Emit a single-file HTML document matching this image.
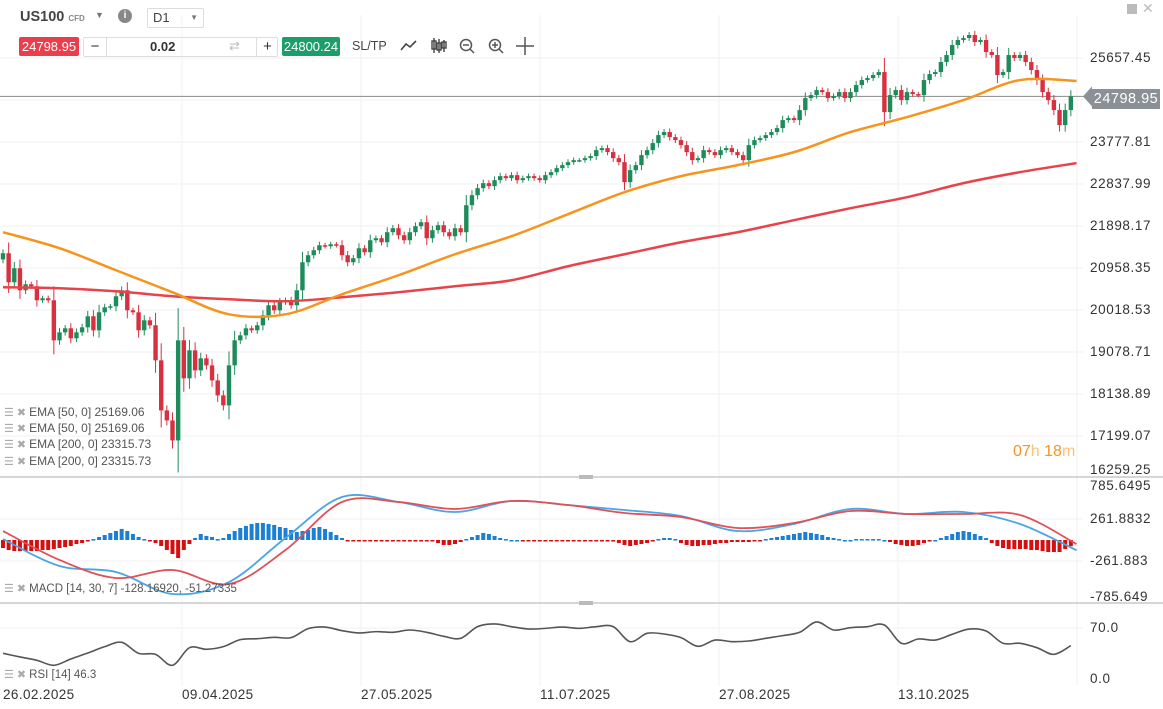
<!DOCTYPE html>
<html><head><meta charset="utf-8">
<style>
body{margin:0;width:1163px;height:709px;overflow:hidden;background:#fff;font-family:"Liberation Sans",sans-serif;position:relative}
.abs{position:absolute}
.ax{position:absolute;left:1090px;font-size:13.5px;color:#333;letter-spacing:0.6px}
.lg{position:absolute;left:4px;font-size:12px;color:#555;white-space:nowrap}
.lg i{font-style:normal;color:#aaa;font-size:11px;margin-right:3px}
.dt{position:absolute;top:687px;font-size:13.5px;color:#333;letter-spacing:0.4px}
</style></head><body>
<svg id="chart" class="abs" style="left:0;top:0" width="1163" height="709"></svg>

<div class="abs" style="left:20px;top:9px;font-size:14.5px;font-weight:bold;color:#444">US100 <span style="font-size:8px;color:#888;font-weight:bold">CFD</span></div>
<div class="abs" style="left:95px;top:10px;font-size:9px;color:#777">▼</div>
<div class="abs" style="left:118px;top:9px;width:14px;height:14px;border-radius:7px;background:#888;color:#fff;font-size:10px;text-align:center;line-height:14px;font-weight:bold">i</div>
<div class="abs" style="left:147px;top:8px;width:50px;height:18px;border:1px solid #ddd;border-radius:2px;font-size:13px;color:#444;line-height:18px;padding-left:5px;box-sizing:content-box">D1<span style="position:absolute;right:5px;font-size:8px;color:#777">▼</span></div>

<div class="abs" style="left:19px;top:37px;width:60px;height:19px;background:#ea3e4c;color:#fff;font-size:13px;line-height:19px;text-align:center;border-radius:2px">24798.95</div>
<div class="abs" style="left:83px;top:37px;width:193px;height:18px;border:1px solid #ddd;border-radius:2px"></div>
<div class="abs" style="left:84px;top:37px;width:22px;height:19px;border-right:1px solid #ddd;text-align:center;font-size:15px;line-height:19px;color:#333">−</div>
<div class="abs" style="left:150px;top:39px;font-size:13px;font-weight:bold;color:#333">0.02</div>
<div class="abs" style="left:229px;top:38px;font-size:13px;color:#bbb">⇄</div>
<div class="abs" style="left:256px;top:37px;width:21px;height:19px;border-left:1px solid #ddd;text-align:center;font-size:15px;line-height:19px;color:#333">+</div>
<div class="abs" style="left:282px;top:37px;width:58px;height:19px;background:#1c9e6a;color:#fff;font-size:13px;line-height:19px;text-align:center;border-radius:2px">24800.24</div>
<div class="abs" style="left:352px;top:39px;font-size:12.5px;color:#444">SL/TP</div>
<svg class="abs" style="left:398px;top:36px" width="145" height="22">
 <polyline points="3,14 8,8 12,11 18,5" fill="none" stroke="#444" stroke-width="1.6"/>
 <g stroke="#444" stroke-width="1.4" fill="none"><line x1="36" y1="2" x2="36" y2="17"/><rect x="34" y="5" width="4" height="8"/><line x1="41" y1="3" x2="41" y2="17"/><rect x="39" y="7" width="4" height="7"/><line x1="46" y1="4" x2="46" y2="16"/><rect x="44" y="6" width="4" height="6"/></g>
 <g stroke="#555" stroke-width="1.5" fill="none"><circle cx="68" cy="9" r="5.5"/><line x1="72" y1="13" x2="76" y2="17"/><line x1="65" y1="9" x2="71" y2="9"/></g>
 <g stroke="#555" stroke-width="1.5" fill="none"><circle cx="97" cy="9" r="5.5"/><line x1="101" y1="13" x2="105" y2="17"/><line x1="94" y1="9" x2="100" y2="9"/><line x1="97" y1="6" x2="97" y2="12"/></g>
 <g stroke="#555" stroke-width="1.5" fill="none"><line x1="118" y1="10" x2="136" y2="10"/><line x1="127" y1="1" x2="127" y2="19"/></g>
</svg>
<div class="abs" style="left:1127px;top:4px;width:10px;height:10px;background:#bbb"></div>
<div class="abs" style="left:1142px;top:0px;font-size:14px;color:#bbb">✕</div>

<div class="ax" style="top:50px">25657.45</div>
<div class="ax" style="top:134px">23777.81</div>
<div class="ax" style="top:176px">22837.99</div>
<div class="ax" style="top:218px">21898.17</div>
<div class="ax" style="top:260px">20958.35</div>
<div class="ax" style="top:302px">20018.53</div>
<div class="ax" style="top:344px">19078.71</div>
<div class="ax" style="top:386px">18138.89</div>
<div class="ax" style="top:428px">17199.07</div>
<div class="ax" style="top:462px">16259.25</div>
<div class="abs" style="left:1092px;top:89px;width:68px;height:20px;background:#8b9096;color:#fff;font-size:14.5px;line-height:20px;text-align:center;letter-spacing:0.5px">24798.95</div>
<div class="abs" style="left:1013px;top:443px;font-size:16px;color:#f7931e">07<span style="color:#f9c27a">h</span> 18<span style="color:#f9c27a">m</span></div>

<div class="lg" style="top:405px"><i>☰ ✖</i>EMA [50, 0] 25169.06</div>
<div class="lg" style="top:421px"><i>☰ ✖</i>EMA [50, 0] 25169.06</div>
<div class="lg" style="top:437px"><i>☰ ✖</i>EMA [200, 0] 23315.73</div>
<div class="lg" style="top:454px"><i>☰ ✖</i>EMA [200, 0] 23315.73</div>

<div class="ax" style="top:478px">785.6495</div>
<div class="ax" style="top:511px">261.8832</div>
<div class="ax" style="top:553px">-261.883</div>
<div class="ax" style="top:589px">-785.649</div>
<div class="lg" style="top:582px;font-size:11.5px"><i>☰ ✖</i>MACD [14, 30, 7] -128.16920, -51.27335</div>

<div class="ax" style="top:620px">70.0</div>
<div class="ax" style="top:671px">0.0</div>
<div class="lg" style="top:668px;font-size:11.5px"><i>☰ ✖</i>RSI [14] 46.3</div>

<div class="dt" style="left:3px">26.02.2025</div>
<div class="dt" style="left:182px">09.04.2025</div>
<div class="dt" style="left:361px">27.05.2025</div>
<div class="dt" style="left:540px">11.07.2025</div>
<div class="dt" style="left:719px">27.08.2025</div>
<div class="dt" style="left:898px">13.10.2025</div>

<script>
const closes=[21289,20639,20953,20460,20594,20550,20236,20281,20236,19340,
19519,19609,19385,19519,19631,19878,19564,19967,20079,20102,
20326,20460,20012,19967,19564,19788,19676,18892,17772,17548,
17100,19340,18489,19116,18668,18937,18780,18444,18108,17884,
18780,19340,19452,19609,19564,19676,19900,20124,20012,20191,
20236,20124,20460,21087,21244,21356,21468,21446,21490,21468,
21244,21087,21177,21400,21311,21580,21625,21535,21759,21849,
21692,21580,21759,21894,21983,21625,21804,21916,21759,21669,
21849,21759,22364,22588,22745,22857,22790,22924,23014,22969,
23036,22924,22969,23014,22969,22924,23036,23103,23193,23260,
23327,23372,23372,23417,23462,23596,23641,23552,23417,23327,
22879,23148,23260,23484,23596,23753,23932,24001,23888,23820,
23708,23552,23372,23417,23596,23552,23484,23596,23641,23552,
23484,23372,23708,23820,23865,23932,24001,24089,24268,24313,
24268,24492,24761,24828,24940,24895,24761,24806,24895,24761,
24895,25052,25164,25209,25276,25343,24447,24828,24940,24716,
24895,24850,24828,25164,25298,25343,25567,25724,25948,26060,
26105,26172,26015,26060,25791,25724,25276,25343,25724,25657,
25724,25567,25388,25164,24895,24716,24492,24156,24492,24799];
const firstOpen=21150;
const ema50=[21759,21401,20908,20415,19922,19922,20370,20796,21266,21670,22162,22655,23014,23260,23551,23999,24335,24716,25164,25142];
const ema200=[20527,20505,20438,20326,20258,20214,20303,20415,20550,20684,20998,21266,21535,21759,22028,22297,22543,22857,23103,23305];
const macdLine=[12,-324,-399,-673,-524,25,536,474,349,486,436,374,299,112,200,387,324,349,200,-128];
const signalLine=[112,-249,-474,-374,-549,-125,474,474,387,486,436,337,287,150,212,362,324,324,312,-51];
const hist=[-100,-125,-138,-138,-138,-138,-138,-125,-125,-112,-100,-88,-75,-50,-38,-12,
12,38,62,88,112,138,112,75,38,12,
-12,-38,-75,-125,-175,-225,-125,-50,
25,75,50,38,12,
25,75,112,150,175,200,212,212,200,188,162,150,125,100,112,125,150,162,138,100,62,25,
-12,-12,-12,-12,-12,-12,-12,-12,-12,-12,-12,-12,-12,-12,-12,-12,
-38,-62,-62,-50,-25,
12,38,62,88,75,50,25,12,
0,0,-12,-12,-12,-12,-12,-12,-12,-12,-12,-12,-12,-12,-12,-12,-12,-12,-12,
-38,-62,-75,-62,-50,-38,-12,
12,25,25,12,
-38,-62,-75,-75,-62,-62,-50,-38,-38,-25,-25,-25,-25,-12,-12,
12,25,38,50,62,75,88,100,88,75,62,38,25,12,
0,0,12,12,12,
12,12,0,-25,-50,
-62,-75,-75,-62,-38,
-12,0,25,
50,75,100,112,100,75,50,25,
-38,-75,-100,-112,-112,-112,-112,-125,-125,-138,-150,-150,-150,-112,-77];
const rsi=[35.9,31.0,26.5,19.8,28.3,36.3,44.9,50.7,35.9,34.5,19.8,43.5,41.3,44.9,54.3,55.6,57.4,57.0,69.1,71.3,66.4,63.3,65.1,64.2,67.3,64.2,58.8,56.1,71.8,75.4,71.8,68.6,69.5,71.3,69.5,71.8,71.8,51.6,62.8,61.9,57.0,45.3,53.8,51.6,52.5,56.1,59.7,64.2,78.1,67.3,70.4,71.8,74.0,49.4,55.2,53.8,61.5,68.6,65.9,49.4,49.4,43.5,34.5,46.3];
const priceTicks=[25657.45,24717.63,23777.81,22837.99,21898.17,20958.35,20018.53,19078.71,18138.89,17199.07];
const currentPrice=24798.95;

const NS='http://www.w3.org/2000/svg';
const svg=document.getElementById('chart');
const X0=3,DX=5.65,PR=1083;
const xc=i=>X0+i*DX;
const yP=v=>58+(25657.45-v)/939.82*42;
const yM=m=>540-m*0.0802;
const yR=r=>680-r*0.743;
function mk(t,a){const e=document.createElementNS(NS,t);for(const k in a)e.setAttribute(k,a[k]);svg.appendChild(e);return e;}

priceTicks.forEach(v=>{const e=mk('line',{x1:0,x2:PR,y1:yP(v),y2:yP(v),stroke:'#f0f0f0','stroke-width':1});

});
[519,561,628].forEach(y=>{const e=mk('line',{x1:0,x2:PR,y1:y,y2:y,stroke:'#f0f0f0'});

});
[182,361,540,719,898,1077].forEach(x=>{const e=mk('line',{x1:x,x2:x,y1:15,y2:686,stroke:'#f2f2f2'});

});
[477,603].forEach(y=>{const e=mk('line',{x1:0,x2:1163,y1:y,y2:y,stroke:'#c8c8c8','stroke-width':1.5});


const h=mk('rect',{x:579,y:y-2,width:14,height:4,fill:'#bbb'});

});

const cl=mk('line',{x1:0,x2:1090,y1:yP(currentPrice),y2:yP(currentPrice),stroke:'#888','stroke-width':1});


const ca=mk('polygon',{points:`1083,${yP(currentPrice)} 1092,${yP(currentPrice)-10} 1092,${yP(currentPrice)+10}`,fill:'#8b9096'});



closes.forEach((c,i)=>{
 const o=i===0?firstOpen:closes[i-1];
 const up=c>=o, col=up?'#1e8c5a':'#d8303f';
 const top=Math.max(o,c),bot=Math.min(o,c),rng=top-bot;
 const hi=top+rng*0.3+45,lo=bot-rng*0.3-45;
 const x=xc(i);
 const w=mk('line',{x1:x,x2:x,y1:yP(hi),y2:yP(lo),stroke:col,'stroke-width':1});
 
 
 const r=mk('rect',{x:x-2.2,y:yP(top),width:4.4,height:Math.max(1.5,yP(bot)-yP(top)),fill:col});
 
 
});
// smooth Catmull-Rom path through data points
function line(arr,step,yf,col,w,name){
 const P=arr.map((v,k)=>[xc(k*step),yf(v)]);
 let d='M'+P[0][0]+','+P[0][1];
 for(let i=0;i<P.length-1;i++){
  const p0=P[i-1]||P[i],p1=P[i],p2=P[i+1],p3=P[i+2]||P[i+1];
  const c1=[p1[0]+(p2[0]-p0[0])/6,p1[1]+(p2[1]-p0[1])/6];
  const c2=[p2[0]-(p3[0]-p1[0])/6,p2[1]-(p3[1]-p1[1])/6];
  d+=` C${c1[0]},${c1[1]} ${c2[0]},${c2[1]} ${p2[0]},${p2[1]}`;
 }
 const e=mk('path',{d:d,fill:'none',stroke:col,'stroke-width':w,'stroke-linejoin':'round'});
 
 
}
line(ema200,10,yP,'#e8434a',2.5,'ema200-line');
line(ema50,10,yP,'#f7941d',2.5,'ema50-line');

hist.forEach((h,i)=>{
 const y0=yM(0),y1=yM(h);
 const r=mk('rect',{x:xc(i)-2,y:Math.min(y0,y1),width:4,height:Math.max(1.5,Math.abs(y1-y0)),fill:h>=0?'#1b7fd4':'#d40f0f'});
 
 
});
line(macdLine,10,yM,'#4aa6e0',1.8,'macd-line');
line(signalLine,10,yM,'#e05058',1.8,'macd-signal-line');
line(rsi,3,yR,'#555',1.6,'rsi-line');
</script>
</body></html>
